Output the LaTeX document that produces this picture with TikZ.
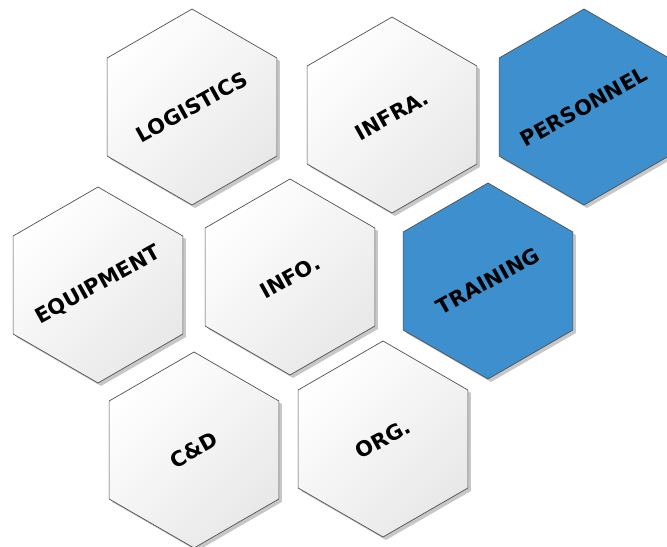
\documentclass[tikz,border=0pt]{standalone}
\usepackage{fontspec}
\setmainfont{DejaVu Sans}
\usetikzlibrary{shadows}
\definecolor{hexblue}{HTML}{3D90CD}
\definecolor{hexline}{HTML}{505050}
\tikzset{
  hexshape/.style={draw=hexline, line width=0.7bp, line join=miter,
    drop shadow={shadow xshift=3bp, shadow yshift=-3bp, opacity=0.22, fill=black}},
  hexwhite/.style={hexshape, top color=white, bottom color=black!9, shading angle=45},
  hexbluef/.style={hexshape, fill=hexblue},
  hexlabel/.style={font=\bfseries\fontsize{21}{24}\selectfont, text=black, rotate=29, inner sep=0pt}
}
\begin{document}
\begin{tikzpicture}[x=1bp,y=-1bp]
\useasboundingbox (0,0) rectangle (667,547);
\clip (0,0) rectangle (667,547);
% hexagons
\path[hexwhite] (192,9) -- ++(-84.87,49) -- ++(0,98) -- ++(84.87,49) -- ++(84.87,-49) -- ++(0,-98) -- cycle;
\path[hexwhite] (392,17) -- ++(-84.87,49) -- ++(0,98) -- ++(84.87,49) -- ++(84.87,-49) -- ++(0,-98) -- cycle;
\path[hexbluef] (584,9) -- ++(-84.87,49) -- ++(0,98) -- ++(84.87,49) -- ++(84.87,-49) -- ++(0,-98) -- cycle;
\path[hexwhite] (98,187) -- ++(-84.87,49) -- ++(0,98) -- ++(84.87,49) -- ++(84.87,-49) -- ++(0,-98) -- cycle;
\path[hexwhite] (290,179) -- ++(-84.87,49) -- ++(0,98) -- ++(84.87,49) -- ++(84.87,-49) -- ++(0,-98) -- cycle;
\path[hexbluef] (488,183) -- ++(-84.87,49) -- ++(0,98) -- ++(84.87,49) -- ++(84.87,-49) -- ++(0,-98) -- cycle;
\path[hexwhite] (194,352) -- ++(-84.87,49) -- ++(0,98) -- ++(84.87,49) -- ++(84.87,-49) -- ++(0,-98) -- cycle;
\path[hexwhite] (383,341) -- ++(-84.87,49) -- ++(0,98) -- ++(84.87,49) -- ++(84.87,-49) -- ++(0,-98) -- cycle;
% labels
\node[hexlabel] (logistics) at (192,107) {LOGISTICS};
\node[hexlabel] (infra) at (392,115) {INFRA.};
\node[hexlabel] (personnel) at (584,107) {PERSONNEL};
\node[hexlabel] (equipment) at (98,285) {EQUIPMENT};
\node[hexlabel] (info) at (290,277) {INFO.};
\node[hexlabel] (training) at (488,281) {TRAINING};
\node[hexlabel] (cd) at (194,450) {C\&D};
\node[hexlabel] (org) at (383,439) {ORG.};
\end{tikzpicture}
\end{document}
